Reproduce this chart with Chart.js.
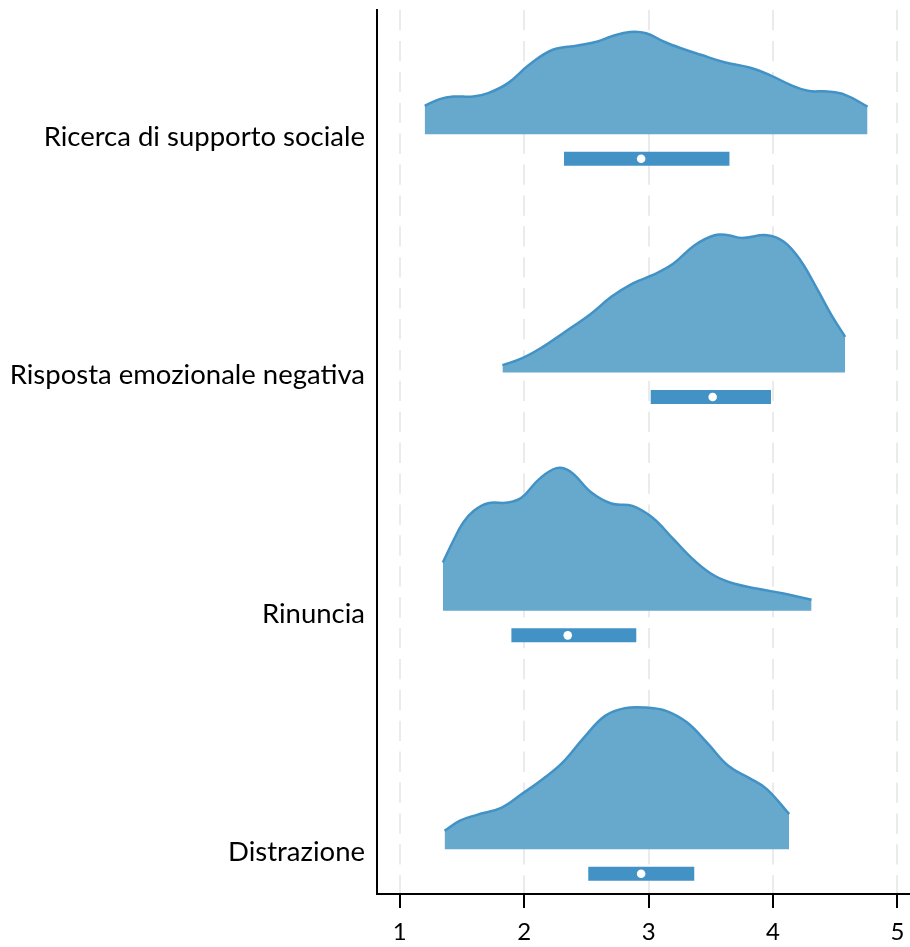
<!DOCTYPE html>
<html>
<head>
<meta charset="utf-8">
<script src="https://cdn.jsdelivr.net/npm/chart.js@4.4.0/dist/chart.umd.min.js"></script>
<style>
  html, body { margin: 0; padding: 0; background: #fff; }
  #wrap { width: 910px; height: 947px; position: relative; }
</style>
</head>
<body>
<div id="wrap"><canvas id="chart"></canvas></div>
<script>
// Categories, top to bottom, and their positions on the y axis
const categories = ['Ricerca di supporto sociale', 'Risposta emozionale negativa', 'Rinuncia', 'Distrazione'];
const catPos = [4, 3, 2, 1];
const xTicks = [1, 2, 3, 4, 5];

// Density estimates (x grid and density)
const ricercaX = [1.20, 1.32, 1.43, 1.59, 1.71, 1.87, 2.04, 2.23, 2.43, 2.59, 2.70, 2.85, 2.98, 3.12, 3.26, 3.42, 3.61, 3.81, 3.97, 4.14, 4.28, 4.44, 4.58, 4.76];
const ricercaD = [0.198, 0.245, 0.263, 0.263, 0.287, 0.357, 0.485, 0.590, 0.620, 0.648, 0.683, 0.715, 0.706, 0.648, 0.601, 0.555, 0.503, 0.466, 0.415, 0.345, 0.303, 0.298, 0.275, 0.193];

const rispostaX = [1.825, 1.98, 2.15, 2.31, 2.54, 2.70, 2.87, 3.03, 3.20, 3.37, 3.53, 3.64, 3.75, 3.95, 4.09, 4.22, 4.36, 4.47, 4.58];
const rispostaD = [0.051, 0.098, 0.179, 0.273, 0.413, 0.529, 0.622, 0.680, 0.762, 0.890, 0.960, 0.960, 0.941, 0.960, 0.913, 0.785, 0.576, 0.401, 0.249];

const rinunciaX = [1.346, 1.43, 1.51, 1.595, 1.71, 1.87, 1.98, 2.12, 2.26, 2.37, 2.54, 2.70, 2.87, 3.03, 3.20, 3.37, 3.53, 3.70, 3.89, 4.085, 4.31];
const rinunciaD = [0.338, 0.490, 0.617, 0.699, 0.752, 0.757, 0.792, 0.921, 0.998, 0.974, 0.827, 0.750, 0.734, 0.652, 0.501, 0.350, 0.245, 0.187, 0.152, 0.121, 0.077];

const distrazioneX = [1.36, 1.48, 1.62, 1.82, 1.98, 2.15, 2.31, 2.48, 2.65, 2.81, 2.98, 3.14, 3.31, 3.48, 3.64, 3.81, 3.95, 4.13];
const distrazioneD = [0.128, 0.198, 0.240, 0.291, 0.385, 0.490, 0.606, 0.780, 0.932, 0.986, 0.990, 0.967, 0.885, 0.734, 0.583, 0.497, 0.420, 0.245];

// Interquartile ranges and medians
const q1 = [2.32, 3.017, 1.897, 2.515];
const q3 = [3.65, 3.984, 2.901, 3.367];
const medians = [2.94, 3.515, 2.35, 2.94];

// Layout of the half violins relative to each category (y units)
const BASE_OFFSET = 0.012;
const BOX_OFFSET = -0.091;
const VIOLIN_SCALE = 0.6;

const densX = [ricercaX, rispostaX, rinunciaX, distrazioneX];
const densD = [ricercaD, rispostaD, rinunciaD, distrazioneD];

const FILL = '#67a9cd';
const LINE = '#4292c6';

const datasets = [];

// half violins (drawn first)
categories.forEach((cat, i) => {
  const base = catPos[i] + BASE_OFFSET;
  datasets.push({
    label: cat,
    order: 3,
    data: densX[i].map((x, j) => ({ x: x, y: base + densD[i][j] * VIOLIN_SCALE })),
    showLine: true,
    borderColor: LINE,
    borderWidth: 2.5,
    backgroundColor: FILL,
    fill: { value: base },
    pointRadius: 0,
    tension: 0.4
  });
});

// IQR bars
categories.forEach((cat, i) => {
  const y = catPos[i] + BOX_OFFSET;
  datasets.push({
    label: cat + ' IQR',
    order: 2,
    data: [{ x: q1[i], y: y }, { x: q3[i], y: y }],
    showLine: true,
    borderColor: LINE,
    borderWidth: 14,
    borderCapStyle: 'butt',
    pointRadius: 0,
    fill: false
  });
});

// medians on top
datasets.push({
  label: 'Mediana',
  order: 1,
  data: medians.map((m, i) => ({ x: m, y: catPos[i] + BOX_OFFSET })),
  pointRadius: 4.3,
  pointBackgroundColor: '#ffffff',
  pointBorderColor: '#ffffff',
  pointBorderWidth: 0,
  showLine: false
});

Chart.defaults.font.family = 'Lato, "Open Sans", sans-serif';
Chart.defaults.color = '#000';

// drop the automatic half-label padding so the plot area is where we want it
function noPad(axis) {
  axis.paddingTop = 0;
  axis.paddingBottom = 0;
  axis.paddingLeft = 0;
  axis.paddingRight = 0;
}

new Chart(document.getElementById('chart'), {
  type: 'scatter',
  data: { datasets: datasets },
  options: {
    responsive: true,
    maintainAspectRatio: false,
    animation: false,
    layout: { autoPadding: false, padding: { top: 10, right: 0, left: 0, bottom: 0 } },
    plugins: {
      legend: { display: false },
      tooltip: { enabled: false }
    },
    scales: {
      x: {
        type: 'linear',
        min: 0.8167,
        max: 5.1013,
        afterBuildTicks: function(axis) {
          axis.ticks = xTicks.map(v => ({ value: v }));
        },
        afterFit: function(axis) { axis.height = 53; noPad(axis); },
        ticks: {
          font: { size: 24 },
          color: '#000',
          padding: 10,
          maxRotation: 0,
          callback: function(v) { return String(v); }
        },
        grid: {
          color: '#ebebeb',
          lineWidth: 2,
          drawTicks: true,
          tickLength: 14,
          tickColor: '#000',
          tickWidth: 2
        },
        border: { display: true, color: '#000', width: 2, dash: [20.3, 10.6] }
      },
      y: {
        type: 'linear',
        min: 0.8238,
        max: 4.5329,
        afterBuildTicks: function(axis) {
          axis.ticks = catPos.map(v => ({ value: v }));
        },
        afterFit: function(axis) { axis.width = 377; noPad(axis); },
        ticks: {
          font: { size: 27.5 },
          color: '#000',
          padding: 12,
          callback: function(v) {
            const k = catPos.indexOf(v);
            return k >= 0 ? categories[k] : '';
          }
        },
        grid: { display: false, drawTicks: false },
        border: { display: true, color: '#000', width: 2 }
      }
    }
  }
});
</script>
</body>
</html>
